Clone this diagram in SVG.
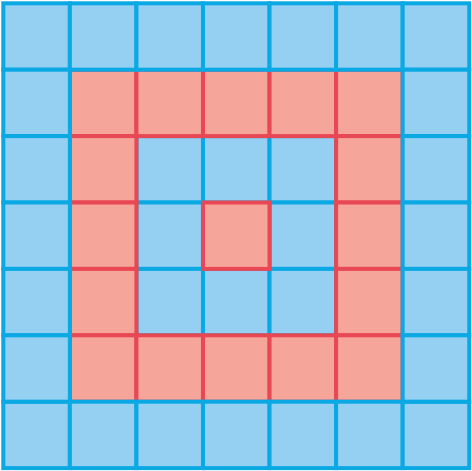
<svg xmlns="http://www.w3.org/2000/svg" width="472" height="471" viewBox="0 0 472 471">
<style>
.b{fill:#95cff1;stroke:#0aa9e4;stroke-width:4}
.r{fill:#f6a59b;stroke:#e84754;stroke-width:4}
</style>
<rect width="472" height="471" fill="#ffffff"/>
<g id="inner-blue">
<rect class="b" x="136.42" y="136.1" width="66.56" height="66.4"/>
<rect class="b" x="202.98" y="136.1" width="66.56" height="66.4"/>
<rect class="b" x="269.54" y="136.1" width="66.56" height="66.4"/>
<rect class="b" x="136.42" y="202.5" width="66.56" height="66.4"/>
<rect class="b" x="269.54" y="202.5" width="66.56" height="66.4"/>
<rect class="b" x="136.42" y="268.9" width="66.56" height="66.4"/>
<rect class="b" x="202.98" y="268.9" width="66.56" height="66.4"/>
<rect class="b" x="269.54" y="268.9" width="66.56" height="66.4"/>
</g>
<g id="center-red">
<rect class="r" x="202.98" y="202.5" width="66.56" height="66.4"/>
</g>
<g id="red-ring">
<rect class="r" x="69.86" y="69.7" width="66.56" height="66.4"/>
<rect class="r" x="136.42" y="69.7" width="66.56" height="66.4"/>
<rect class="r" x="202.98" y="69.7" width="66.56" height="66.4"/>
<rect class="r" x="269.54" y="69.7" width="66.56" height="66.4"/>
<rect class="r" x="336.1" y="69.7" width="66.56" height="66.4"/>
<rect class="r" x="69.86" y="136.1" width="66.56" height="66.4"/>
<rect class="r" x="336.1" y="136.1" width="66.56" height="66.4"/>
<rect class="r" x="69.86" y="202.5" width="66.56" height="66.4"/>
<rect class="r" x="336.1" y="202.5" width="66.56" height="66.4"/>
<rect class="r" x="69.86" y="268.9" width="66.56" height="66.4"/>
<rect class="r" x="336.1" y="268.9" width="66.56" height="66.4"/>
<rect class="r" x="69.86" y="335.3" width="66.56" height="66.4"/>
<rect class="r" x="136.42" y="335.3" width="66.56" height="66.4"/>
<rect class="r" x="202.98" y="335.3" width="66.56" height="66.4"/>
<rect class="r" x="269.54" y="335.3" width="66.56" height="66.4"/>
<rect class="r" x="336.1" y="335.3" width="66.56" height="66.4"/>
</g>
<g id="outer-blue">
<rect class="b" x="3.3" y="3.3" width="66.56" height="66.4"/>
<rect class="b" x="69.86" y="3.3" width="66.56" height="66.4"/>
<rect class="b" x="136.42" y="3.3" width="66.56" height="66.4"/>
<rect class="b" x="202.98" y="3.3" width="66.56" height="66.4"/>
<rect class="b" x="269.54" y="3.3" width="66.56" height="66.4"/>
<rect class="b" x="336.1" y="3.3" width="66.56" height="66.4"/>
<rect class="b" x="402.66" y="3.3" width="66.56" height="66.4"/>
<rect class="b" x="3.3" y="401.7" width="66.56" height="66.4"/>
<rect class="b" x="69.86" y="401.7" width="66.56" height="66.4"/>
<rect class="b" x="136.42" y="401.7" width="66.56" height="66.4"/>
<rect class="b" x="202.98" y="401.7" width="66.56" height="66.4"/>
<rect class="b" x="269.54" y="401.7" width="66.56" height="66.4"/>
<rect class="b" x="336.1" y="401.7" width="66.56" height="66.4"/>
<rect class="b" x="402.66" y="401.7" width="66.56" height="66.4"/>
<rect class="b" x="3.3" y="69.7" width="66.56" height="66.4"/>
<rect class="b" x="3.3" y="136.1" width="66.56" height="66.4"/>
<rect class="b" x="3.3" y="202.5" width="66.56" height="66.4"/>
<rect class="b" x="3.3" y="268.9" width="66.56" height="66.4"/>
<rect class="b" x="3.3" y="335.3" width="66.56" height="66.4"/>
<rect class="b" x="402.66" y="69.7" width="66.56" height="66.4"/>
<rect class="b" x="402.66" y="136.1" width="66.56" height="66.4"/>
<rect class="b" x="402.66" y="202.5" width="66.56" height="66.4"/>
<rect class="b" x="402.66" y="268.9" width="66.56" height="66.4"/>
<rect class="b" x="402.66" y="335.3" width="66.56" height="66.4"/>
</g>
</svg>
